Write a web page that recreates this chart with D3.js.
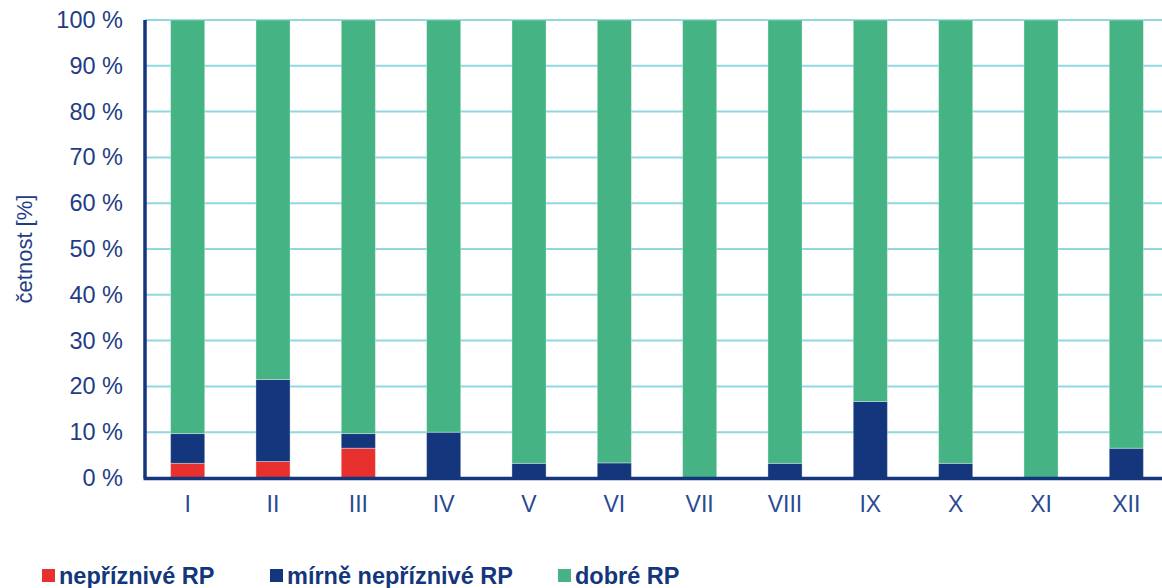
<!DOCTYPE html>
<html>
<head>
<meta charset="utf-8">
<script src="https://cdn.jsdelivr.net/npm/d3@7"></script>
<style>
  body { margin: 0; background: #fff; }
  text { font-family: "Liberation Sans", Arial, sans-serif; }
</style>
</head>
<body>
<div id="chart"></div>
<script>
// months and the share of days per class (%)
var months = ["I", "II", "III", "IV", "V", "VI", "VII", "VIII", "IX", "X", "XI", "XII"];
var nepriznive = [3.2, 3.6, 6.5, 0, 0, 0, 0, 0, 0, 0, 0, 0];
var mirne = [6.5, 17.9, 3.2, 10.0, 3.2, 3.3, 0, 3.2, 16.7, 3.2, 0, 6.5];
var dobre = [90.3, 78.5, 90.3, 90.0, 96.8, 96.7, 100, 96.8, 83.3, 96.8, 100, 93.5];
var yTicks = [0, 10, 20, 30, 40, 50, 60, 70, 80, 90, 100];

var seriesNames = ["nepříznivé RP", "mírně nepříznivé RP", "dobré RP"];
var colors = ["#e8312f", "#13367c", "#45b383"];

var W = 1162, H = 588;
var margin = {top: 20, right: -7, bottom: 110, left: 145},
    width = W - margin.left - margin.right,
    height = H - margin.top - margin.bottom;

var svg = d3.select("#chart").append("svg")
    .attr("width", W)
    .attr("height", H);

var g = svg.append("g")
    .attr("transform", "translate(" + margin.left + "," + margin.top + ")");

var rows = months.map(function (m, i) {
    return {month: m, s0: nepriznive[i], s1: mirne[i], s2: dobre[i]};
});
var stack = d3.stack().keys(["s0", "s1", "s2"]);
var layers = stack(rows);

var x = d3.scaleBand()
    .domain(months)
    .range([0, width])
    .paddingInner(0.6)
    .paddingOuter(0.3);

var y = d3.scaleLinear()
    .domain([0, 100])
    .range([height, 0]);

// grid lines
g.append("g")
    .selectAll("line")
    .data(yTicks.slice(1))
    .enter().append("line")
    .attr("x1", 0)
    .attr("x2", width)
    .attr("y1", function (d) { return y(d); })
    .attr("y2", function (d) { return y(d); })
    .style("stroke", "#8fd8e0")
    .style("stroke-width", 2);

// bars
g.append("g")
    .selectAll("g")
    .data(layers)
    .enter().append("g")
    .style("fill", function (d, i) { return colors[i]; })
    .selectAll("rect")
    .data(function (d) { return d; })
    .enter().append("rect")
    .attr("x", function (d) { return x(d.data.month); })
    .attr("width", x.bandwidth())
    .attr("y", function (d) { return y(d[1]); })
    .attr("height", function (d) { return y(d[0]) - y(d[1]); })
    .style("stroke", "rgba(255,255,255,0.35)")
    .style("stroke-width", 1);

// axis lines
g.append("line")
    .attr("x1", 0).attr("x2", 0)
    .attr("y1", 0).attr("y2", height)
    .style("stroke", "#13367c")
    .style("stroke-width", 3.5);
g.append("line")
    .attr("x1", -1.5).attr("x2", width)
    .attr("y1", height + 0.5).attr("y2", height + 0.5)
    .style("stroke", "#13367c")
    .style("stroke-width", 3.5);

// y tick labels
var yAxis = d3.axisLeft(y)
    .tickValues(yTicks)
    .tickSize(0)
    .tickPadding(22)
    .tickFormat(function (d) { return d + " %"; });
g.append("g")
    .call(yAxis)
    .call(function (a) { a.select(".domain").remove(); })
    .selectAll("text")
    .style("font-size", "23.5px")
    .style("fill", "#1f3d86");

// x tick labels
var xAxis = d3.axisBottom(x).tickSize(0).tickPadding(18);
g.append("g")
    .attr("transform", "translate(0," + height + ")")
    .call(xAxis)
    .call(function (a) { a.select(".domain").remove(); })
    .selectAll("text")
    .style("font-size", "23px")
    .style("fill", "#2a4a92");

// y axis title
svg.append("text")
    .attr("transform", "translate(32,249) rotate(-90)")
    .attr("text-anchor", "middle")
    .style("font-size", "22px")
    .style("fill", "#1f3d86")
    .text("četnost [%]");

// legend
var legendX = [42, 270, 558];
var legend = svg.append("g")
    .selectAll("g")
    .data(seriesNames)
    .enter().append("g")
    .attr("transform", function (d, i) { return "translate(" + legendX[i] + ",569)"; });
legend.append("rect")
    .attr("width", 13)
    .attr("height", 13)
    .style("fill", function (d, i) { return colors[i]; });
legend.append("text")
    .attr("x", 17)
    .attr("y", 15)
    .style("font-size", "23.5px")
    .style("font-weight", "bold")
    .style("fill", "#13367c")
    .text(function (d) { return d; });
</script>
</body>
</html>
